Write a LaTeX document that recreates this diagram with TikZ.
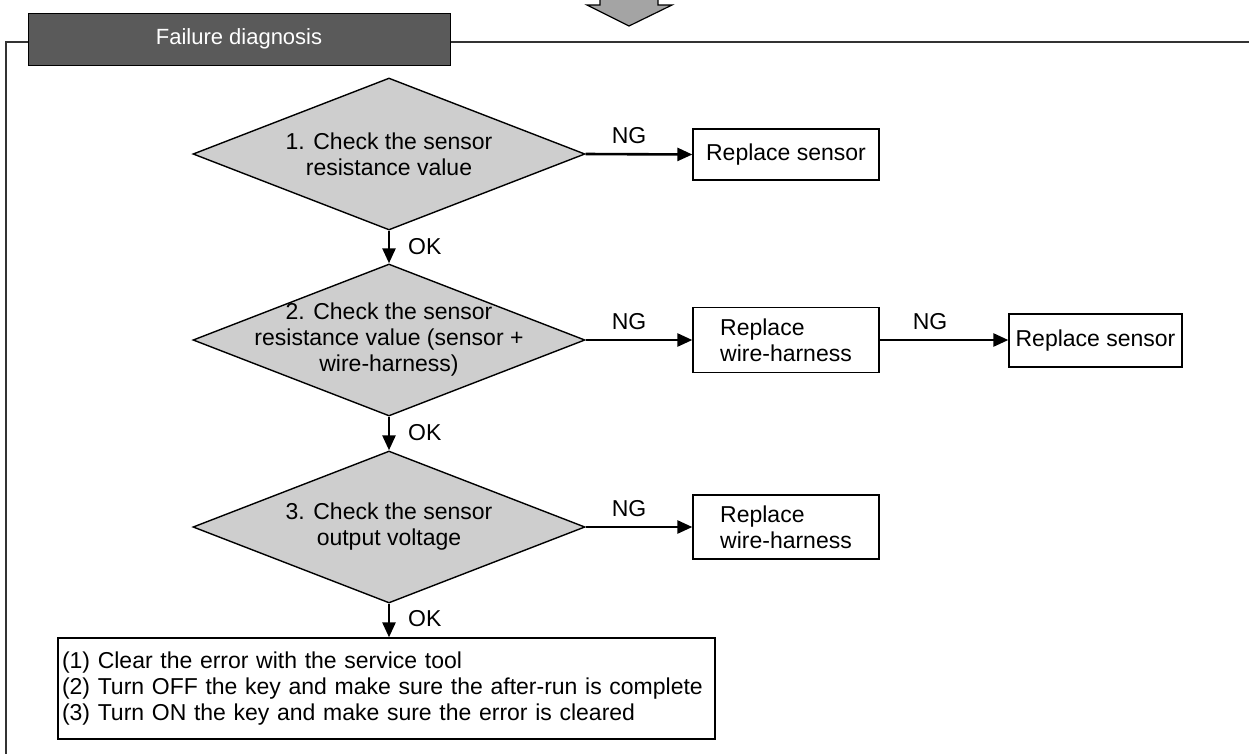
\documentclass[tikz,border=0pt]{standalone}
\usepackage{fontspec}
\setmainfont{Liberation Sans}
\usetikzlibrary{shapes.geometric,arrows.meta}
\definecolor{diafill}{HTML}{CECECE}
\definecolor{tabfill}{HTML}{5A5A5A}
\definecolor{bigarrow}{HTML}{A4A4A4}
\definecolor{framecol}{HTML}{333333}
\begin{document}
\begin{tikzpicture}[x=1pt,y=-1pt,
  every node/.style={font=\fontsize{23}{26}\selectfont},
  dia/.style={diamond, draw=black, line width=1.4pt, fill=diafill,
    minimum width=392pt, minimum height=152pt, inner sep=0pt},
  diatext/.style={align=center, inner sep=0pt},
  actbox/.style={draw=black, line width=1.3pt, inner sep=0pt},
  flow/.style={line width=2.6pt, -{Triangle[length=15pt,width=13pt]}},
  tag/.style={inner sep=0pt}
]
\useasboundingbox (0,0) rectangle (1249,753);

% incoming arrow from the previous stage
\draw[fill=bigarrow, draw=black, line width=1.2pt]
  (600,-3) -- (600,5) -- (587,5) -- (629,26) -- (672,5) -- (658,5) -- (658,-3);

% section frame with its title tab
\node[draw=black, line width=1pt, fill=tabfill, text=white,
      minimum width=422pt, minimum height=52pt, inner sep=0pt,
      font=\fontsize{22}{26}\selectfont]
  (tab) at (239,39) {Failure diagnosis};
\coordinate (fl) at (6,42);
\coordinate (fb) at (6,760);
\coordinate (fr) at (1256,42);
\draw[framecol, line width=1.4pt] (fb) -- (fl) -- (tab.west |- fl);
\draw[framecol, line width=1.4pt] (tab.east |- fl) -- (fr);

% decision steps
\node[dia] (d1) at (389,154) {};
\node[diatext] (t1) at (d1) {1. Check the sensor\\resistance value};
\node[dia] (d2) at (389,340) {};
\node[diatext] (t2) at (d2) {2. Check the sensor\\resistance value (sensor +\\wire-harness)};
\node[dia] (d3) at (389,527) {};
\node[diatext] (t3) at (d3) {3. Check the sensor\\output voltage};

% actions on NG
\node[actbox, minimum width=186pt, minimum height=51pt] (r1) at (786,154.5) {Replace sensor};
\node[actbox, minimum width=186pt, minimum height=65pt, align=left] (r2) at (786,340) {Replace\\wire-harness};
\node[actbox, minimum width=173pt, minimum height=53pt] (r2b) at (1095.5,340.5) {Replace sensor};
\node[actbox, minimum width=186pt, minimum height=64pt, align=left] (r3) at (786,527) {Replace\\wire-harness};

% final procedure
\node[actbox, minimum width=657pt, minimum height=101pt, text width=649pt,
      inner xsep=4pt, align=left]
  (fin) at (386.5,688.5)
  {(1) Clear the error with the service tool\\
   (2) Turn OFF the key and make sure the after-run is complete\\
   (3) Turn ON the key and make sure the error is cleared};

% connectors
\draw[flow] (d1.east) -- (r1.west);
\draw[flow] (d2.east) -- (r2.west);
\draw[flow] (r2.east) -- (r2b.west |- r2.east);
\draw[flow] (d3.east) -- (r3.west);
\draw[flow] (d1.south) -- (d2.north);
\draw[flow] (d2.south) -- (d3.north);
\draw[flow] (d3.south) -- (d3.south |- fin.north);

% branch labels
\node[tag] (ng1) at (629,136) {NG};
\node[tag] (ng2) at (629,322) {NG};
\node[tag] (ng2b) at (930,322) {NG};
\node[tag] (ng3) at (629,509) {NG};
\node[tag, anchor=west] (ok1) at (408,247) {OK};
\node[tag, anchor=west] (ok2) at (408,433) {OK};
\node[tag, anchor=west] (ok3) at (408,619) {OK};
\end{tikzpicture}
\end{document}
